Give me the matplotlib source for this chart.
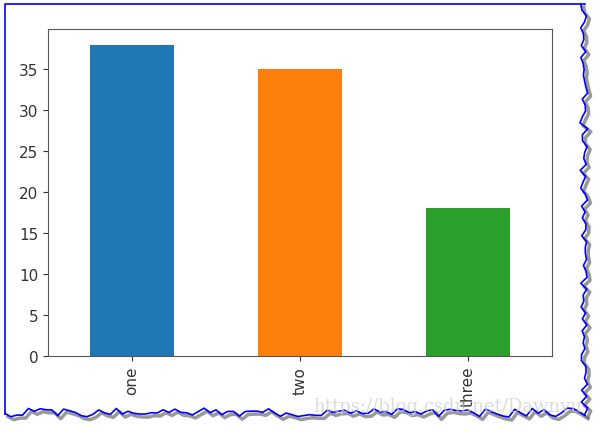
import numpy as np
import matplotlib
matplotlib.use("Agg")
import matplotlib.pyplot as plt
from matplotlib.lines import Line2D

categories = ["one", "two", "three"]
values = [38, 35, 18]
colors = ["#1f77b4", "#ff7f0e", "#2ca02c"]

fig = plt.figure(figsize=(6.03, 4.35), dpi=100)
ax = fig.add_axes([48 / 603, 1 - 357 / 435, 504 / 603, 327 / 435])

x = np.arange(len(categories))
ax.bar(x, values, width=0.5, color=colors)
ax.set_xlim(-0.5, len(categories) - 0.5)
ax.set_ylim(0, max(values) * 1.05)
ax.set_xticks(x)
ax.set_xticklabels(categories, rotation=90)
ax.set_yticks(range(0, 40, 5))
ax.tick_params(labelsize=11, colors="#333333")
for s in ax.spines.values():
    s.set_color("#555555")

# screenshot frame: straight blue edges on left/top, torn edges on right/bottom
W, H = 603.0, 435.0
rng = np.random.default_rng(3)
ys = np.linspace(5, 415, 70)
xs_r = 585 + rng.uniform(-5, 3, len(ys))
xs = np.linspace(5, 585, 100)
ys_b = 415 + rng.uniform(-6, 3, len(xs))
for dx, dy, col, lw in [(3, 3, "#555555", 2.5), (0, 0, "#0000ff", 1.2)]:
    fig.add_artist(Line2D((xs_r + dx) / W, 1 - (ys + dy) / H, color=col, lw=lw,
                          alpha=0.6 if dx else 1))
    fig.add_artist(Line2D((xs + dx) / W, 1 - (ys_b + dy) / H, color=col, lw=lw,
                          alpha=0.6 if dx else 1))
fig.add_artist(Line2D([5 / W, 5 / W, 585 / W], [1 - 415 / H, 1 - 5 / H, 1 - 5 / H],
                      color="#0000ff", lw=1.2))

fig.text(0.52, 1 - 412 / H, "https://blog.csdn.net/Dawnyu", fontsize=13,
         color="#cccccc", alpha=0.7, family="DejaVu Serif")

fig.savefig("out.png", dpi=100)
